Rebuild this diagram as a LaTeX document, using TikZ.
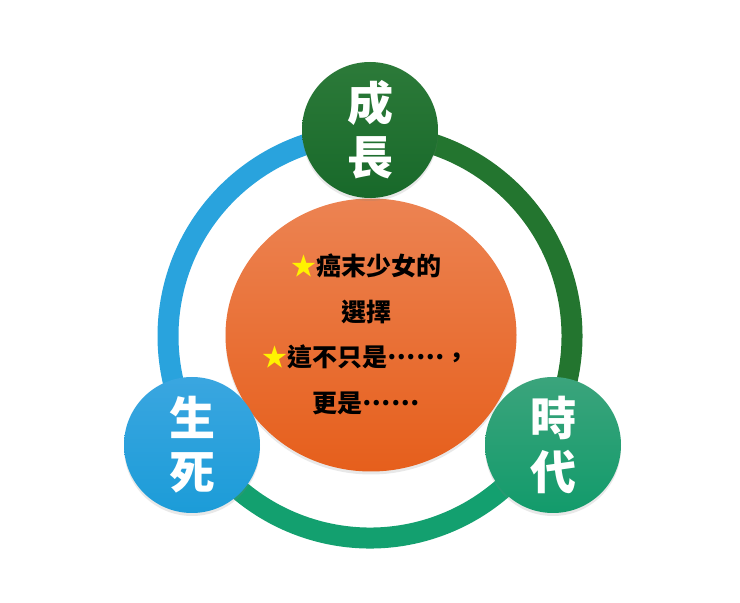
\documentclass[tikz,border=0pt]{standalone}
\usepackage{fontspec}
\newfontfamily\cjk{Noto Sans CJK TC}
\usetikzlibrary{shapes.geometric,shadows}
\definecolor{lifeBlue}{HTML}{1C9CD8}
\definecolor{lifeBlueTop}{HTML}{3AA6E0}
\definecolor{growGreen}{HTML}{18692A}
\definecolor{growGreenTop}{HTML}{2C7A39}
\definecolor{eraTeal}{HTML}{129B6B}
\definecolor{eraTealTop}{HTML}{3BA47C}
\definecolor{coreTop}{HTML}{EC8352}
\definecolor{coreBottom}{HTML}{E65F1C}
\definecolor{arcBlue}{HTML}{29A3DD}
\definecolor{arcGreen}{HTML}{23752F}
\definecolor{arcTeal}{HTML}{13A06F}
\definecolor{starYellow}{HTML}{FFF200}
\newcommand\starmark{\textcolor{starYellow}{★}}
\newcommand\middots{\raisebox{0.3em}{……}}

\begin{document}
\begin{tikzpicture}[x=1pt, y=1pt,
      ring/.style={line width=21pt},
      theme/.style={circle, minimum size=136pt, inner sep=0pt, text=white, align=center,
        font=\cjk\bfseries\fontsize{46}{54}\selectfont,
        drop shadow={opacity=0.18, shadow xshift=0pt, shadow yshift=-3pt}}]
    \useasboundingbox (0,0) rectangle (740,603);
    \coordinate (hub) at (370,267);
    % the ring, one arc per pair of themes
    \draw[ring, arcBlue] ([shift={(80:202)}]hub) arc[start angle=80, end angle=215, radius=202];
    \draw[ring, arcTeal] ([shift={(205:202)}]hub) arc[start angle=205, end angle=335, radius=202];
    \draw[ring, arcGreen] ([shift={(325:202)}]hub) arc[start angle=325, end angle=460, radius=202];
    % the centre
    \node (core) [ellipse, minimum width=291pt, minimum height=273pt, inner sep=0pt,
      top color=coreTop, bottom color=coreBottom,
      drop shadow={opacity=0.18, shadow xshift=0pt, shadow yshift=-3pt}] at (371,268) {};
    \node (story) [font=\cjk\bfseries\fontsize{25}{45.7}\selectfont, align=center] at (366,268.5)
      {\starmark 癌末少女的\\選擇\\\starmark 這不只是\middots ，\\更是\middots};
    % the three themes
    \node (grow) [theme, top color=growGreenTop, bottom color=growGreen] at (370,473) {成\\長};
    \node (life) [theme, top color=lifeBlueTop, bottom color=lifeBlue] at (192,158) {生\\死};
    \node (era) [theme, top color=eraTealTop, bottom color=eraTeal] at (553,158) {時\\代};
  \end{tikzpicture}
\end{document}
